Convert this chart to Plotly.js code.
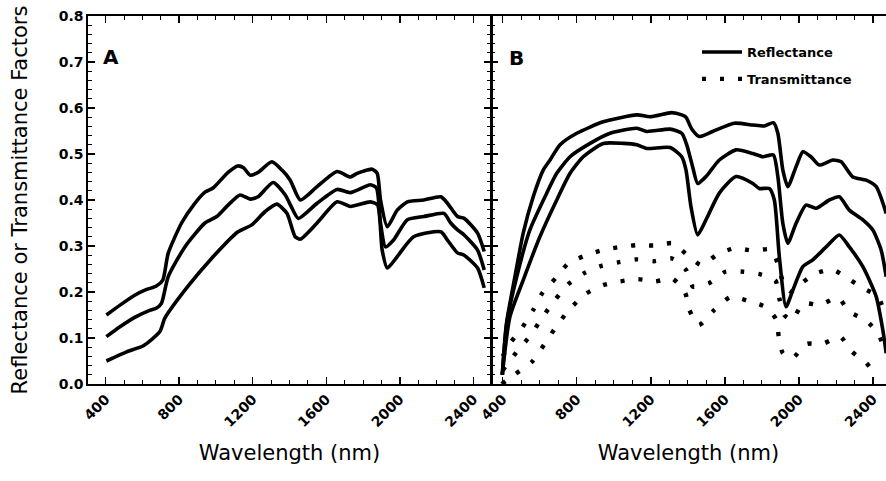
<!DOCTYPE html>
<html>
<head>
<meta charset="utf-8">
<script src="https://cdn.plot.ly/plotly-3.0.1.min.js"></script>
<style>html,body{margin:0;padding:0;background:#fff;}</style>
</head>
<body>
<div id="chart" style="width:886px;height:481px;"></div>
<script>
// ---- Panel A: reflectance (three leaves) ----
const wlA_top = [404,480,558,620,676,711,740,813,880,940,984,1066,1118,1150,1186,1229,1304,1359,1404,1459,1550,1659,1731,1768,1850,1877,1895,1932,1986,2041,2130,2223,2259,2314,2350,2423,2459];
const rA_top  = [0.15,0.172,0.193,0.205,0.213,0.226,0.284,0.35,0.39,0.417,0.426,0.46,0.474,0.47,0.454,0.46,0.483,0.465,0.443,0.40,0.429,0.462,0.45,0.458,0.467,0.458,0.40,0.342,0.378,0.396,0.40,0.407,0.393,0.364,0.36,0.328,0.288];

const wlA_mid = [404,480,558,640,677,704,740,831,940,1004,1066,1131,1186,1229,1311,1377,1404,1448,1550,1659,1731,1840,1873,1895,1922,1966,2041,2130,2240,2277,2314,2350,2423,2459];
const rA_mid  = [0.103,0.125,0.145,0.16,0.165,0.176,0.233,0.298,0.35,0.364,0.389,0.411,0.402,0.407,0.438,0.411,0.39,0.36,0.393,0.423,0.416,0.433,0.426,0.35,0.298,0.313,0.357,0.364,0.371,0.35,0.335,0.324,0.291,0.248];

const wlA_bot = [404,514,605,695,722,847,976,1120,1195,1268,1331,1386,1431,1459,1550,1659,1731,1840,1879,1904,1932,1986,2075,2223,2259,2314,2350,2423,2459];
const rA_bot  = [0.05,0.07,0.083,0.114,0.143,0.212,0.273,0.331,0.346,0.375,0.391,0.371,0.32,0.315,0.35,0.396,0.386,0.396,0.389,0.291,0.252,0.277,0.32,0.331,0.313,0.285,0.28,0.252,0.209];

// ---- Panel B: reflectance ----
const wlB_rTop = [398,420,466,511,565,619,656,710,800,943,1124,1196,1313,1367,1390,1420,1462,1534,1651,1751,1813,1862,1886,1913,1940,1984,2021,2065,2110,2183,2228,2291,2363,2417,2471];
const rB_top   = [0.02,0.13,0.233,0.328,0.407,0.465,0.487,0.52,0.545,0.57,0.585,0.581,0.59,0.585,0.58,0.555,0.538,0.549,0.567,0.563,0.561,0.568,0.545,0.465,0.429,0.472,0.505,0.494,0.476,0.487,0.483,0.45,0.443,0.429,0.371];

const wlB_rMid = [398,422,476,547,638,692,764,872,980,1124,1178,1304,1367,1394,1426,1453,1498,1570,1660,1751,1805,1862,1886,1913,1940,1984,2038,2092,2164,2218,2272,2345,2399,2444,2471];
const rB_mid   = [0.02,0.132,0.233,0.335,0.415,0.458,0.494,0.523,0.545,0.556,0.549,0.554,0.545,0.52,0.472,0.436,0.451,0.487,0.509,0.501,0.494,0.498,0.451,0.349,0.306,0.349,0.389,0.382,0.40,0.407,0.378,0.357,0.335,0.291,0.233];

const wlB_rBot = [398,439,511,601,692,764,835,943,1052,1124,1178,1304,1367,1390,1417,1453,1498,1570,1660,1751,1786,1840,1867,1894,1930,1967,2021,2075,2147,2218,2272,2345,2417,2453,2471];
const rB_bot   = [0.02,0.146,0.226,0.32,0.40,0.458,0.494,0.523,0.523,0.52,0.512,0.514,0.494,0.465,0.385,0.324,0.357,0.415,0.451,0.436,0.425,0.425,0.40,0.277,0.168,0.204,0.255,0.27,0.298,0.324,0.298,0.255,0.19,0.117,0.067];

// ---- Panel B: transmittance ----
const wlB_tTop = [400,439,506,565,616,688,754,845,940,1034,1127,1219,1318,1390,1471,1561,1651,1751,1840,1862,1886,1920,1957,2000,2083,2179,2255,2339,2426,2462];
const tB_top   = [0.06,0.088,0.123,0.161,0.199,0.231,0.262,0.279,0.291,0.298,0.302,0.301,0.306,0.283,0.259,0.282,0.295,0.29,0.293,0.285,0.261,0.215,0.201,0.215,0.239,0.249,0.232,0.21,0.19,0.155];

const wlB_tMid = [400,476,553,611,683,754,845,935,1030,1124,1217,1313,1390,1426,1513,1603,1700,1795,1873,1894,1920,1963,2021,2116,2210,2273,2363,2431,2462];
const tB_mid   = [0.03,0.07,0.107,0.143,0.183,0.217,0.242,0.257,0.265,0.271,0.267,0.273,0.248,0.212,0.219,0.244,0.244,0.238,0.225,0.186,0.15,0.139,0.175,0.172,0.188,0.157,0.138,0.107,0.074];

const wlB_tBot = [395,466,560,623,686,758,848,943,1034,1129,1223,1316,1385,1408,1459,1543,1633,1729,1822,1876,1891,1913,1963,2042,2132,2222,2287,2363,2420];
const tB_bot   = [0.0,0.021,0.049,0.085,0.123,0.161,0.196,0.215,0.223,0.228,0.223,0.229,0.199,0.161,0.128,0.161,0.19,0.18,0.167,0.141,0.103,0.067,0.056,0.087,0.088,0.103,0.07,0.046,0.017];

const legendNames = ['Reflectance', 'Transmittance'];
const axisTitleX = 'Wavelength (nm)';
const axisTitleY = 'Reflectance or Transmittance Factors';
const panelLabels = ['A', 'B'];

const solid = {color:'#000', width:3.6, shape:'spline', smoothing:0.6};
const dotted = {color:'#000', width:4.4, dash:'4px,14px', shape:'spline', smoothing:0.6};

function tr(x, y, xa, ya, line, name, show) {
  return {type:'scatter', mode:'lines', x:x, y:y, xaxis:xa, yaxis:ya, line:line,
          name:name, showlegend:show, legendgroup:name, hoverinfo:'skip'};
}

const data = [
  tr(wlA_top, rA_top, 'x', 'y', solid, legendNames[0], false),
  tr(wlA_mid, rA_mid, 'x', 'y', solid, legendNames[0], false),
  tr(wlA_bot, rA_bot, 'x', 'y', solid, legendNames[0], false),
  tr(wlB_rTop, rB_top, 'x2', 'y2', solid, legendNames[0], true),
  tr(wlB_rMid, rB_mid, 'x2', 'y2', solid, legendNames[0], false),
  tr(wlB_rBot, rB_bot, 'x2', 'y2', solid, legendNames[0], false),
  tr(wlB_tTop, tB_top, 'x2', 'y2', dotted, legendNames[1], true),
  tr(wlB_tMid, tB_mid, 'x2', 'y2', dotted, legendNames[1], false),
  tr(wlB_tBot, tB_bot, 'x2', 'y2', dotted, legendNames[1], false)
];

const tickFont = {family:'DejaVu Sans', size:14, color:'#000', weight:'bold'};
const titleFont = {family:'DejaVu Sans', size:21, color:'#000'};

function xAxis(domain, range, anchor) {
  return {
    domain:domain, range:range, anchor:anchor,
    tick0:400, dtick:400, tickangle:-45,
    ticks:'inside', ticklen:7, tickwidth:1.5, tickcolor:'#000',
    minor:{dtick:100, tick0:400, ticks:'inside', ticklen:4, tickwidth:1, tickcolor:'#000'},
    showline:true, linewidth:1.6, linecolor:'#000', mirror:'ticks',
    showgrid:false, zeroline:false, tickfont:tickFont,
    title:{text:axisTitleX, font:titleFont, standoff:16}
  };
}

const layout = {
  width:886, height:481,
  margin:{l:88, r:0, t:16, b:97},
  paper_bgcolor:'#fff', plot_bgcolor:'#fff',
  font:{family:'DejaVu Sans', color:'#000'},
  showlegend:true,
  legend:{x:(697-88)/798, y:1-(37-16)/368, xanchor:'left', yanchor:'top',
          bgcolor:'rgba(0,0,0,0)', font:{family:'DejaVu Sans', size:13, weight:'bold', color:'#000'},
          traceorder:'grouped', tracegroupgap:7, itemwidth:40},
  xaxis:xAxis([0, 403/798], [304, 2496], 'y'),
  xaxis2:xAxis([403/798, 1], [337, 2470], 'y2'),
  yaxis:{
    domain:[0,1], range:[0,0.8], anchor:'x', dtick:0.1, tick0:0, tickformat:'.1f',
    ticks:'inside', ticklen:7, tickwidth:1.5, tickcolor:'#000',
    minor:{dtick:0.02, ticks:'inside', ticklen:4, tickwidth:1, tickcolor:'#000'},
    showline:true, linewidth:1.6, linecolor:'#000', mirror:'ticks',
    showgrid:false, zeroline:false, tickfont:tickFont,
    title:{text:axisTitleY, font:titleFont, standoff:25}
  },
  yaxis2:{
    domain:[0,1], range:[0,0.8], anchor:'x2', dtick:0.1, tick0:0,
    ticks:'inside', ticklen:7, tickwidth:1.5, tickcolor:'#000',
    minor:{dtick:0.02, ticks:'inside', ticklen:4, tickwidth:1, tickcolor:'#000'},
    showline:true, linewidth:1, linecolor:'#000', mirror:false,
    showticklabels:false, showgrid:false, zeroline:false
  },
  annotations:[
    {text:panelLabels[0], xref:'x domain', yref:'y domain', x:(101-88)/403, y:1-(57-16)/368,
     xanchor:'left', yanchor:'middle', showarrow:false,
     font:{family:'DejaVu Sans', size:20, weight:'bold', color:'#000'}},
    {text:panelLabels[1], xref:'x2 domain', yref:'y2 domain', x:(507-491)/395, y:1-(58-16)/368,
     xanchor:'left', yanchor:'middle', showarrow:false,
     font:{family:'DejaVu Sans', size:20, weight:'bold', color:'#000'}}
  ]
};

Plotly.newPlot('chart', data, layout, {staticPlot:true, displayModeBar:false});
</script>
</body>
</html>
